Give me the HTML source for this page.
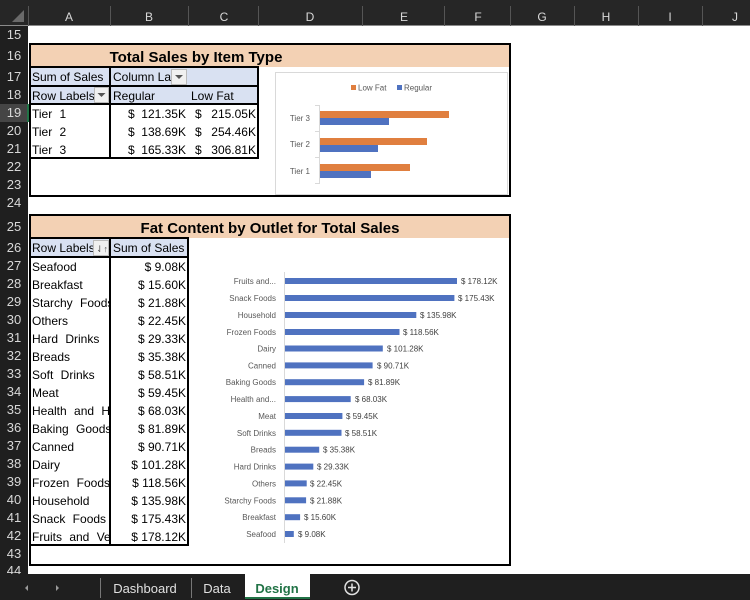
<!DOCTYPE html>
<html><head><meta charset="utf-8"><style>
html,body{margin:0;padding:0;background:#fff;}
svg{display:block;font-family:"Liberation Sans",Arial,sans-serif;}
</style></head><body>
<svg width="750" height="600" viewBox="0 0 750 600" xmlns="http://www.w3.org/2000/svg">
<rect width="750" height="600" fill="#fff"/>
<rect x="0" y="0" width="750" height="26" fill="#262626"/>
<line x1="0" y1="25.5" x2="750" y2="25.5" stroke="#8a8a8a"/>
<polygon points="24,10 24,22 12,22" fill="#6a6a6a"/>
<g stroke="#555" stroke-width="1">
<line x1="28.5" y1="6" x2="28.5" y2="26"/><line x1="110.5" y1="6" x2="110.5" y2="26"/><line x1="188.5" y1="6" x2="188.5" y2="26"/><line x1="258.5" y1="6" x2="258.5" y2="26"/><line x1="362.5" y1="6" x2="362.5" y2="26"/><line x1="444.5" y1="6" x2="444.5" y2="26"/><line x1="510.5" y1="6" x2="510.5" y2="26"/><line x1="574.5" y1="6" x2="574.5" y2="26"/><line x1="638.5" y1="6" x2="638.5" y2="26"/><line x1="702.5" y1="6" x2="702.5" y2="26"/>
</g>
<g fill="#d8d8d8" font-size="12" text-anchor="middle">
<text x="69" y="21">A</text><text x="149" y="21">B</text><text x="224" y="21">C</text><text x="310" y="21">D</text><text x="404" y="21">E</text><text x="478" y="21">F</text><text x="542" y="21">G</text><text x="606" y="21">H</text><text x="670" y="21">I</text><text x="735" y="21">J</text>
</g>
<rect x="0" y="26" width="28" height="548" fill="#1f1f1f"/>
<rect x="0" y="104" width="28" height="18" fill="#454545"/>
<rect x="27" y="104" width="2" height="18" fill="#217346"/>
<g fill="#d8d8d8" font-size="13" text-anchor="middle">
<text x="14" y="39">15</text><text x="14" y="60">16</text><text x="14" y="81">17</text><text x="14" y="99">18</text><text x="14" y="117">19</text><text x="14" y="135">20</text><text x="14" y="153">21</text><text x="14" y="171">22</text><text x="14" y="189">23</text><text x="14" y="207">24</text><text x="14" y="231">25</text><text x="14" y="252">26</text>
<text x="14" y="270">27</text><text x="14" y="288">28</text><text x="14" y="306">29</text><text x="14" y="324">30</text><text x="14" y="342">31</text><text x="14" y="360">32</text><text x="14" y="378">33</text><text x="14" y="396">34</text><text x="14" y="414">35</text><text x="14" y="432">36</text><text x="14" y="450">37</text><text x="14" y="468">38</text><text x="14" y="486">39</text><text x="14" y="504">40</text><text x="14" y="522">41</text><text x="14" y="540">42</text><text x="14" y="558">43</text><text x="14" y="575">44</text>
</g>

<rect x="31" y="45" width="478" height="22" fill="#f3d1b4"/>
<text x="196" y="62" font-size="15" font-weight="bold" text-anchor="middle" fill="#000">Total Sales by Item Type</text>
<rect x="31" y="68" width="227" height="36" fill="#d9e1f2"/>
<rect x="30" y="44" width="480" height="152" fill="none" stroke="#000" stroke-width="2"/>
<g stroke="#000" stroke-width="2" fill="none">
<rect x="30" y="67" width="228" height="91"/>
<line x1="110" y1="67" x2="110" y2="158"/>
<line x1="30" y1="86" x2="258" y2="86"/>
<line x1="30" y1="104" x2="258" y2="104"/>
</g>
<g font-size="12" fill="#000">
<text x="32" y="81">Sum of Sales</text>
<svg x="110" y="67" width="62" height="19"><text x="3" y="14">Column La</text></svg>
<svg x="30" y="86" width="66" height="18"><text x="2" y="14">Row Labels</text></svg>
<text x="113" y="100">Regular</text><text x="191" y="100">Low Fat</text>
<text x="32" y="118" word-spacing="4">Tier 1</text><text x="32" y="136" word-spacing="4">Tier 2</text><text x="32" y="154" word-spacing="4">Tier 3</text>
<text x="128" y="118">$</text><text x="186" y="118" text-anchor="end">121.35K</text><text x="195" y="118">$</text><text x="256" y="118" text-anchor="end">215.05K</text>
<text x="128" y="136">$</text><text x="186" y="136" text-anchor="end">138.69K</text><text x="195" y="136">$</text><text x="256" y="136" text-anchor="end">254.46K</text>
<text x="128" y="154">$</text><text x="186" y="154" text-anchor="end">165.33K</text><text x="195" y="154">$</text><text x="256" y="154" text-anchor="end">306.81K</text>
</g>
<rect x="171.5" y="69.5" width="15" height="15" fill="#f0f0f0" stroke="#bbb"/>
<polygon points="175,75 183,75 179,79" fill="#555"/>
<rect x="94.5" y="87.5" width="14" height="15" fill="#f0f0f0" stroke="#bbb"/>
<polygon points="97.5,93 105.5,93 101.5,97" fill="#555"/>

<rect x="275.5" y="72.5" width="232" height="122" fill="#fff" stroke="#d9d9d9"/>
<rect x="351" y="85" width="5" height="5" fill="#e07f3f"/>
<text x="358" y="90.5" font-size="8" fill="#595959">Low Fat</text>
<rect x="397" y="85" width="5" height="5" fill="#4f72c0"/>
<text x="404" y="90.5" font-size="8" fill="#595959">Regular</text>
<g stroke="#d9d9d9"><line x1="319.5" y1="105" x2="319.5" y2="184"/><line x1="315" y1="105.5" x2="320" y2="105.5"/><line x1="315" y1="131.5" x2="320" y2="131.5"/><line x1="315" y1="157.5" x2="320" y2="157.5"/><line x1="315" y1="183.5" x2="320" y2="183.5"/></g>
<rect x="320" y="111" width="129" height="7" fill="#e07f3f"/><rect x="320" y="118" width="69" height="7" fill="#4f72c0"/>
<rect x="320" y="138" width="107" height="7" fill="#e07f3f"/><rect x="320" y="145" width="58" height="7" fill="#4f72c0"/>
<rect x="320" y="164" width="90" height="7" fill="#e07f3f"/><rect x="320" y="171" width="51" height="7" fill="#4f72c0"/>
<g font-size="8" fill="#595959" text-anchor="end">
<text x="310" y="121">Tier 3</text><text x="310" y="147">Tier 2</text><text x="310" y="174">Tier 1</text>
</g>

<rect x="31" y="216" width="478" height="22" fill="#f3d1b4"/>
<text x="270" y="233" font-size="15" font-weight="bold" text-anchor="middle" fill="#000">Fat Content by Outlet for Total Sales</text>
<rect x="31" y="239" width="157" height="18" fill="#d9e1f2"/>
<rect x="30" y="215" width="480" height="350" fill="none" stroke="#000" stroke-width="2"/>
<g stroke="#000" stroke-width="2" fill="none">
<rect x="30" y="238" width="158" height="307"/>
<line x1="110" y1="238" x2="110" y2="545"/>
<line x1="30" y1="257" x2="188" y2="257"/>
</g>
<g font-size="12" fill="#000">
<svg x="30" y="238" width="64" height="19"><text x="2" y="14">Row Labels</text></svg>
<text x="113" y="252">Sum of Sales</text>
</g>
<rect x="93.5" y="240.5" width="15" height="15" fill="#f0f0f0" stroke="#bbb"/>
<text x="96" y="252" font-size="9" fill="#555">⇃↑</text>
<svg x="30" y="257" width="79" height="288" font-size="12" fill="#000" word-spacing="4">
<text x="2" y="14">Seafood</text><text x="2" y="32">Breakfast</text><text x="2" y="50">Starchy Foods</text><text x="2" y="68">Others</text><text x="2" y="86">Hard Drinks</text><text x="2" y="104">Breads</text><text x="2" y="122">Soft Drinks</text><text x="2" y="140">Meat</text><text x="2" y="158">Health and Hygiene</text><text x="2" y="176">Baking Goods</text><text x="2" y="194">Canned</text><text x="2" y="212">Dairy</text><text x="2" y="230">Frozen Foods</text><text x="2" y="248">Household</text><text x="2" y="266">Snack Foods</text><text x="2" y="284">Fruits and Vegetables</text>
</svg>
<g font-size="12" fill="#000" text-anchor="end">
<text x="186" y="271">$  9.08K</text><text x="186" y="289">$  15.60K</text><text x="186" y="307">$  21.88K</text><text x="186" y="325">$  22.45K</text><text x="186" y="343">$  29.33K</text><text x="186" y="361">$  35.38K</text><text x="186" y="379">$  58.51K</text><text x="186" y="397">$  59.45K</text><text x="186" y="415">$  68.03K</text><text x="186" y="433">$  81.89K</text><text x="186" y="451">$  90.71K</text><text x="186" y="469">$  101.28K</text><text x="186" y="487">$  118.56K</text><text x="186" y="505">$  135.98K</text><text x="186" y="523">$  175.43K</text><text x="186" y="541">$  178.12K</text>
</g>

<line x1="284.5" y1="272" x2="284.5" y2="543" stroke="#d9d9d9"/>
<g fill="#4f72c0">
<rect x="285" y="278" width="172" height="6"/><rect x="285" y="295" width="169.4" height="6"/><rect x="285" y="312" width="131.3" height="6"/><rect x="285" y="329" width="114.5" height="6"/><rect x="285" y="345.5" width="97.8" height="6"/><rect x="285" y="362.4" width="87.6" height="6"/><rect x="285" y="379.2" width="79.1" height="6"/><rect x="285" y="396.1" width="65.7" height="6"/><rect x="285" y="413" width="57.4" height="6"/><rect x="285" y="429.8" width="56.5" height="6"/><rect x="285" y="446.7" width="34.2" height="6"/><rect x="285" y="463.6" width="28.3" height="6"/><rect x="285" y="480.4" width="21.7" height="6"/><rect x="285" y="497.3" width="21.1" height="6"/><rect x="285" y="514.2" width="15.1" height="6"/><rect x="285" y="531" width="8.8" height="6"/>
</g>
<g font-size="8" fill="#595959" text-anchor="end">
<text x="276" y="284">Fruits and...</text><text x="276" y="301">Snack Foods</text><text x="276" y="318">Household</text><text x="276" y="335">Frozen Foods</text><text x="276" y="351.5">Dairy</text><text x="276" y="368.4">Canned</text><text x="276" y="385.2">Baking Goods</text><text x="276" y="402">Health and...</text><text x="276" y="419">Meat</text><text x="276" y="435.8">Soft Drinks</text><text x="276" y="452.7">Breads</text><text x="276" y="469.6">Hard Drinks</text><text x="276" y="486.4">Others</text><text x="276" y="503.3">Starchy Foods</text><text x="276" y="520.2">Breakfast</text><text x="276" y="537">Seafood</text>
</g>
<g font-size="8" fill="#404040">
<text x="461" y="284">$ 178.12K</text><text x="458" y="301">$ 175.43K</text><text x="420" y="318">$ 135.98K</text><text x="403" y="335">$ 118.56K</text><text x="387" y="351.5">$ 101.28K</text><text x="377" y="368.4">$ 90.71K</text><text x="368" y="385.2">$ 81.89K</text><text x="355" y="402">$ 68.03K</text><text x="346" y="419">$ 59.45K</text><text x="345" y="435.8">$ 58.51K</text><text x="323" y="452.7">$ 35.38K</text><text x="317" y="469.6">$ 29.33K</text><text x="310" y="486.4">$ 22.45K</text><text x="310" y="503.3">$ 21.88K</text><text x="304" y="520.2">$ 15.60K</text><text x="298" y="537">$ 9.08K</text>
</g>

<rect x="0" y="574" width="750" height="26" fill="#1f1f1f"/>
<polygon points="28,585 28,591 25,588" fill="#9a9a9a"/>
<polygon points="56,585 56,591 59,588" fill="#9a9a9a"/>
<line x1="100.5" y1="578" x2="100.5" y2="598" stroke="#777"/>
<line x1="191.5" y1="578" x2="191.5" y2="598" stroke="#777"/>
<text x="145" y="593" font-size="13" fill="#e0e0e0" text-anchor="middle">Dashboard</text>
<text x="217" y="593" font-size="13" fill="#e0e0e0" text-anchor="middle">Data</text>
<rect x="245" y="574" width="65" height="24" fill="#fff"/>
<rect x="245" y="597" width="65" height="2" fill="#217346"/>
<text x="277" y="593" font-size="13" font-weight="bold" fill="#217346" text-anchor="middle">Design</text>
<circle cx="352" cy="587.5" r="7" fill="none" stroke="#e0e0e0" stroke-width="1.5"/>
<line x1="348" y1="587.5" x2="356" y2="587.5" stroke="#e0e0e0" stroke-width="1.5"/>
<line x1="352" y1="583.5" x2="352" y2="591.5" stroke="#e0e0e0" stroke-width="1.5"/>
</svg>
</body></html>
